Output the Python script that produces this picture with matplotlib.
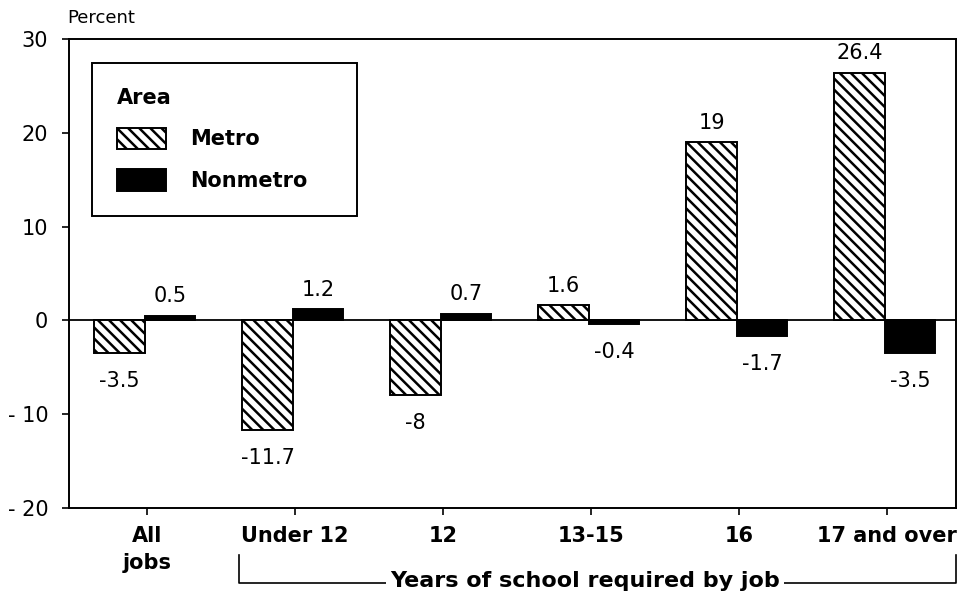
import matplotlib.pyplot as plt
import numpy as np

# data
categories = ["All\njobs", "Under 12", "12", "13-15", "16", "17 and over"]
metro = [-3.5, -11.7, -8, 1.6, 19, 26.4]
nonmetro = [0.5, 1.2, 0.7, -0.4, -1.7, -3.5]
yticks = [30, 20, 10, 0, -10, -20]
ytick_labels = ["30", "20", "10", "0", "- 10", "- 20"]

plt.rcParams['font.family'] = ['DejaVu Sans']
plt.rcParams['hatch.linewidth'] = 1.8

fig = plt.figure(figsize=(9.64, 5.98), dpi=100)
ax = fig.add_axes([69/964, 90/598, 887/964, 469/598])

x = np.arange(len(categories))
w = 0.34
b1 = ax.bar(x - 0.185, metro, w, facecolor='white', edgecolor='black',
            hatch='\\\\\\', linewidth=1.4, label='Metro', zorder=3)
b2 = ax.bar(x + 0.155, nonmetro, w, facecolor='black', edgecolor='black',
            linewidth=1.4, label='Nonmetro', zorder=3)

ax.axhline(0, color='black', lw=1.3, zorder=2)

# value labels
for bars, vals in ((b1, metro), (b2, nonmetro)):
    for r, v in zip(bars, vals):
        txt = '{:g}'.format(v)
        cx = r.get_x() + r.get_width() / 2
        off = 14 if v > 0 else -20
        ax.annotate(txt, (cx, v), xytext=(0, off), textcoords='offset points',
                    ha='center', va='center', fontsize=15)

ax.set_xlim(-0.527, 5.466)
ax.set_ylim(-20, 30)
ax.set_yticks(yticks)
ax.set_yticklabels(ytick_labels)
ax.set_xticks(x)
ax.set_xticklabels(categories, fontweight='bold', fontsize=15, linespacing=1.45)
ax.tick_params(axis='y', direction='out', length=5, width=1.2, labelsize=15, pad=10)
ax.tick_params(axis='x', direction='out', length=5, width=1.2, pad=8)
for s in ax.spines.values():
    s.set_linewidth(1.4)

fig.text(67/964, 1 - 18/598, "Percent", ha='left', va='center', fontsize=13)

# legend
leg = ax.legend(handles=[b1, b2], labels=['Metro', 'Nonmetro'], title='Area',
                loc='upper left', bbox_to_anchor=(0.026, 0.5, 0.299, 0.449),
                mode='expand', borderaxespad=0, alignment='left',
                prop={'weight': 'bold', 'size': 15},
                title_fontproperties={'weight': 'bold', 'size': 15},
                handlelength=2.35, handleheight=1.2, handletextpad=1.15,
                labelspacing=0.95, borderpad=1.2, fancybox=False, framealpha=1)
leg.get_frame().set_edgecolor('black')
leg.get_frame().set_linewidth(1.4)

# bracket under the school categories
tr = ax.get_xaxis_transform()
ax.plot([0.62, 0.62, 5.466, 5.466], [-0.10, -0.16, -0.16, -0.10], color='black',
        lw=1.2, transform=tr, clip_on=False)
ax.text(2.96, -0.155, "Years of school required by job", transform=tr,
        ha='center', va='center', fontsize=16, fontweight='bold',
        bbox=dict(facecolor='white', edgecolor='none', pad=3))

plt.savefig('out.png', dpi=100)
